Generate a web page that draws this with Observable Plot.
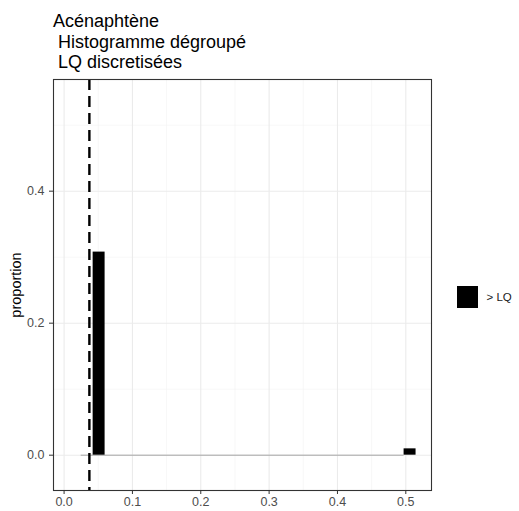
<!DOCTYPE html>
<html>
<head>
<meta charset="utf-8">
<script src="https://cdn.jsdelivr.net/npm/d3@7"></script>
<script src="https://cdn.jsdelivr.net/npm/@observablehq/plot@0.6"></script>
<style>
  html, body { margin: 0; padding: 0; background: #fff; }
  #wrap { position: relative; width: 519px; height: 511px; font-family: "Liberation Sans", Arial, sans-serif; }
  #title { position: absolute; left: 53px; top: 11px; font-size: 18px; line-height: 20.5px; color: #000; white-space: pre; }
  #legend { position: absolute; left: 457px; top: 286px; display: flex; align-items: center; font-size: 11.5px; color: #1a1a1a; }
  #legend .sw { width: 21px; height: 21.5px; background: #000; margin-right: 8.5px; }
</style>
</head>
<body>
<div id="wrap">
  <div id="chart"></div>
  <div id="title">Acénaphtène
 Histogramme dégroupé
 LQ discretisées</div>
  <div id="legend"><div class="sw"></div><span>&gt; LQ</span></div>
</div>
<script>
// Data
const binStart = [0.0425, 0.4975];
const binEnd = [0.06, 0.515];
const proportion = [0.3077, 0.0096];
const category = ["> LQ", "> LQ"];
const lqValue = 0.037;
const zeroBinsFrom = 0.025;
const zeroBinsTo = 0.4975;
const xTicks = [0, 0.1, 0.2, 0.3, 0.4, 0.5];
const xTickLabels = ["0.0", "0.1", "0.2", "0.3", "0.4", "0.5"];
const xMinor = [0.05, 0.15, 0.25, 0.35, 0.45];
const yTicks = [0, 0.2, 0.4];
const yTickLabels = ["0.0", "0.2", "0.4"];
const yMinor = [0.1, 0.3, 0.5];

const bars = binStart.map((s, i) => ({x1: s, x2: binEnd[i], y: proportion[i], cat: category[i]}));

const chart = Plot.plot({
  width: 519,
  height: 511,
  marginLeft: 53,
  marginRight: 88,
  marginTop: 79,
  marginBottom: 21,
  style: {fontFamily: "Liberation Sans, Arial, sans-serif", fontSize: "12.5px", background: "#fff"},
  x: {domain: [-0.0155, 0.5376], label: null, axis: null},
  y: {domain: [-0.0535, 0.5692], label: null, axis: null},
  color: {domain: ["> LQ"], range: ["#000"]},
  marks: [
    // minor grid
    Plot.ruleX(xMinor, {stroke: "#f2f2f2", strokeWidth: 0.6}),
    Plot.ruleY(yMinor, {stroke: "#f2f2f2", strokeWidth: 0.6}),
    // major grid
    Plot.ruleX(xTicks, {stroke: "#ebebeb", strokeWidth: 1.1}),
    Plot.ruleY(yTicks, {stroke: "#ebebeb", strokeWidth: 1.1}),
    // zero-height bins
    Plot.ruleY([0], {x1: zeroBinsFrom, x2: zeroBinsTo, stroke: "#a6a6a6", strokeWidth: 1}),
    // bars
    Plot.rectY(bars, {x1: "x1", x2: "x2", y: "y", fill: "cat"}),
    // LQ dashed line
    Plot.ruleX([lqValue], {stroke: "#000", strokeWidth: 2.4, strokeDasharray: "11,6"}),
    // panel border
    Plot.frame({stroke: "#333", strokeWidth: 1.1}),
    // axes
    Plot.axisX(xTicks, {tickFormat: (d) => xTickLabels[xTicks.indexOf(d)], tickSize: 4, tickPadding: 3, fontSize: 12.5, color: "#4d4d4d", stroke: "#333", label: null}),
    Plot.axisY(yTicks, {tickFormat: (d) => yTickLabels[yTicks.indexOf(d)], tickSize: 4, tickPadding: 5, fontSize: 12.5, color: "#4d4d4d", stroke: "#333", label: null}),
    Plot.text(["proportion"], {frameAnchor: "left", textAnchor: "middle", dx: -37, rotate: -90, fontSize: 14.5, fill: "#000"})
  ]
});
document.getElementById("chart").appendChild(chart);
</script>
</body>
</html>
